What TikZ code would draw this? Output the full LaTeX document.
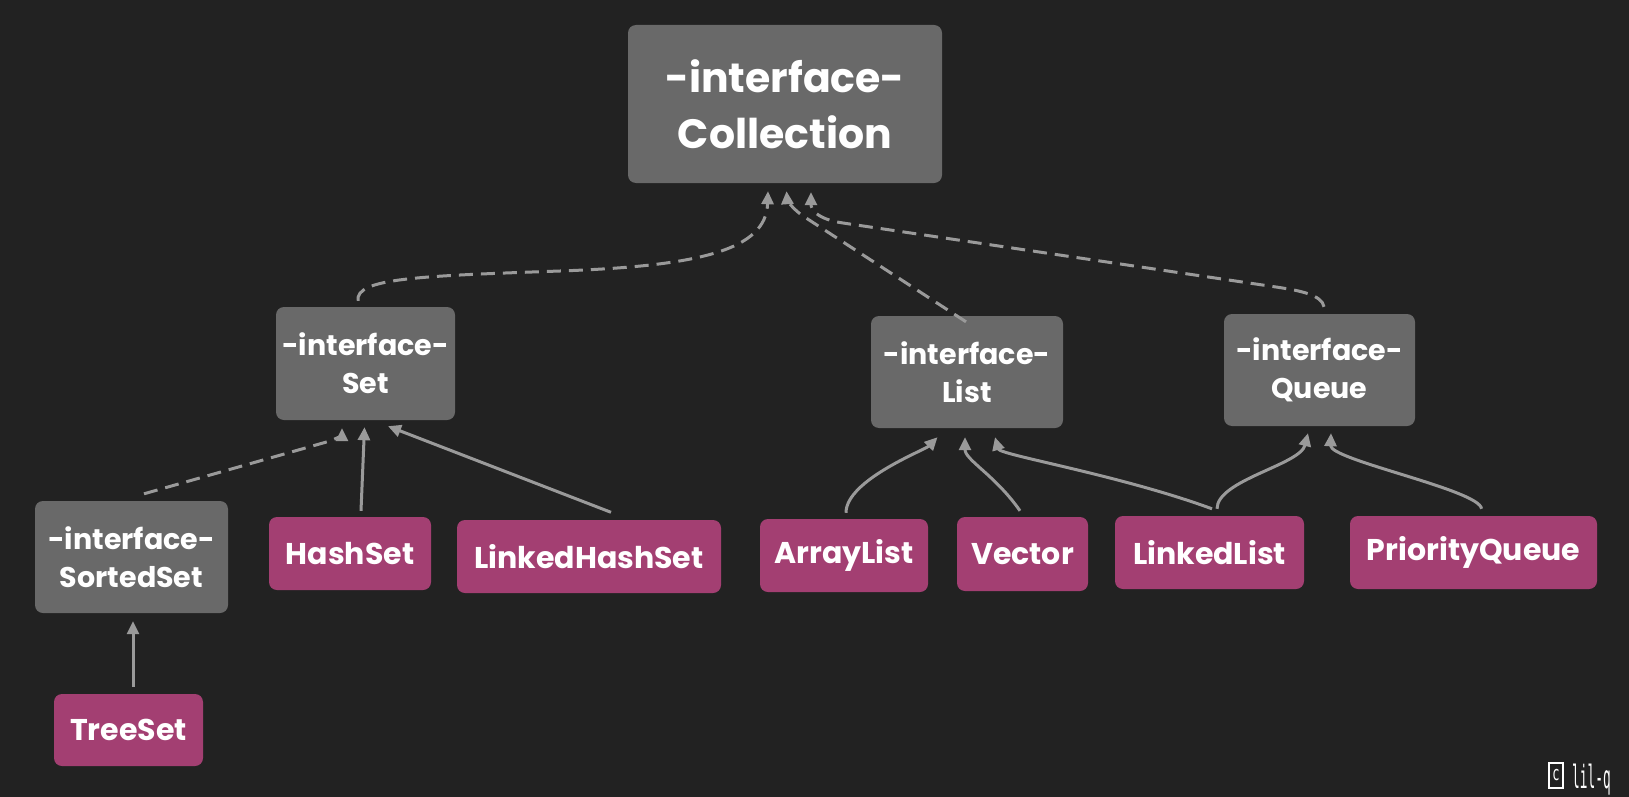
\documentclass[tikz,border=0pt]{standalone}
\usepackage{fontspec}
\usepackage{graphicx}
\setmainfont{Poppins}
\newfontfamily\sigfont{DejaVu Sans Mono}
\usetikzlibrary{arrows.meta}
\definecolor{bg}{HTML}{222222}
\definecolor{ifc}{HTML}{696969}
\definecolor{cls}{HTML}{A33F72}
\definecolor{edge}{HTML}{9A9A9A}
\tikzset{
  box/.style={rounded corners=8pt, inner sep=0pt, align=center, text=white,
    font=\bfseries\fontsize{30}{38}\selectfont},
  ifbox/.style={box, fill=ifc, font=\bfseries\fontsize{28.5}{38}\selectfont},
  clsbox/.style={box, fill=cls},
  rel/.style={draw=edge, line width=3pt, -{Triangle[length=13pt,width=12pt]}},
  impl/.style={rel, dash pattern=on 14pt off 8pt},
}
\begin{document}
\begin{tikzpicture}[x=1pt,y=-1pt]
\fill[bg] (0,0) rectangle (1629,797);
\useasboundingbox (0,0) rectangle (1629,797);

% interfaces
\node[ifbox, minimum width=314pt, minimum height=158pt,
  font=\bfseries\fontsize{41}{56}\selectfont] (coll) at (785,104) {-interface-\\Collection};
\node[ifbox, minimum width=179pt, minimum height=113pt] (set) at (365.5,363.5) {-interface-\\Set};
\node[ifbox, minimum width=192pt, minimum height=112pt] (list) at (967,372) {-interface-\\List};
\node[ifbox, minimum width=191pt, minimum height=112pt] (queue) at (1319.5,370) {-interface-\\Queue};
\node[ifbox, minimum width=193pt, minimum height=112pt] (sorted) at (131.5,557) {-interface-\\SortedSet};

% classes
\node[clsbox, minimum width=162pt, minimum height=73pt] (hash) at (350,553.5) {HashSet};
\node[clsbox, minimum width=264pt, minimum height=73pt] (lhs) at (589,556.5) {LinkedHashSet};
\node[clsbox, minimum width=149pt, minimum height=72pt] (tree) at (128.5,730) {TreeSet};
\node[clsbox, minimum width=168pt, minimum height=73pt] (array) at (844,555.5) {ArrayList};
\node[clsbox, minimum width=131pt, minimum height=74pt] (vector) at (1022.5,554) {Vector};
\node[clsbox, minimum width=189pt, minimum height=73pt] (linked) at (1209.5,552.5) {LinkedList};
\node[clsbox, minimum width=247pt, minimum height=73pt] (pq) at (1473.5,552.5) {PriorityQueue};

% interface -> Collection
\draw[impl] ([shift={(-7.5,-6)}]set.north) .. controls (355,278) and (420,276) .. (560,271)
  .. controls (700,266) and (766,250) .. ([shift={(-17,8)}]coll.south);
\draw[impl] ([shift={(-1,6)}]list.north) -- (803,216)
  .. controls (790,207) and (787,198) .. ([shift={(1.5,8)}]coll.south);
\draw[impl] ([shift={(4.5,-7)}]queue.north) .. controls (1322,295) and (1300,290.5) .. (1276,287)
  -- (843,223) .. controls (815,219) and (811,208) .. ([shift={(26,9)}]coll.south);

% Set family
\draw[impl] ([shift={(12.5,-7)}]sorted.north) -- (330,441)
  .. controls (338,438) and (342,434) .. ([shift={(-23.5,8)}]set.south);
\draw[rel] ([shift={(11,-6)}]hash.north) -- ([shift={(-1,7)}]set.south);
\draw[rel] ([shift={(22,-7.5)}]lhs.north) -- ([shift={(22.5,6)}]set.south);
\draw[rel] ([shift={(4.5,-7)}]tree.north) -- ([shift={(1.5,8)}]sorted.south);

% List / Queue family
\draw[rel] ([shift={(2,-6)}]array.north) .. controls (846,480) and (925,450) .. ([shift={(-29.5,9)}]list.south);
\draw[rel] ([shift={(-2.5,-6)}]vector.north) .. controls (995,475) and (965,460) .. ([shift={(-2,9)}]list.south);
\draw[rel] ([shift={(2.5,-7)}]linked.north) .. controls (1120,475) and (1000,455) .. ([shift={(28,9)}]list.south);
\draw[rel] ([shift={(7.5,-7)}]linked.north) .. controls (1217,480) and (1300,465) .. ([shift={(-11.5,7)}]queue.south);
\draw[rel] ([shift={(8,-7)}]pq.north) .. controls (1480,490) and (1330,460) .. ([shift={(11.5,7)}]queue.south);

% signature
\node[draw=white, line width=1.6pt, inner sep=0pt, minimum width=14pt, minimum height=25pt,
  text=white, font=\sigfont\fontsize{20}{20}\selectfont] (cbox) at (1556,775.5) {\scalebox{0.6}[1]{c}};
\node[anchor=base west, inner sep=0pt, text=white, font=\sigfont\fontsize{32}{32}\selectfont]
  (sig) at (1572,788) {\scalebox{0.4}[1]{lil-q}};
\end{tikzpicture}
\end{document}
